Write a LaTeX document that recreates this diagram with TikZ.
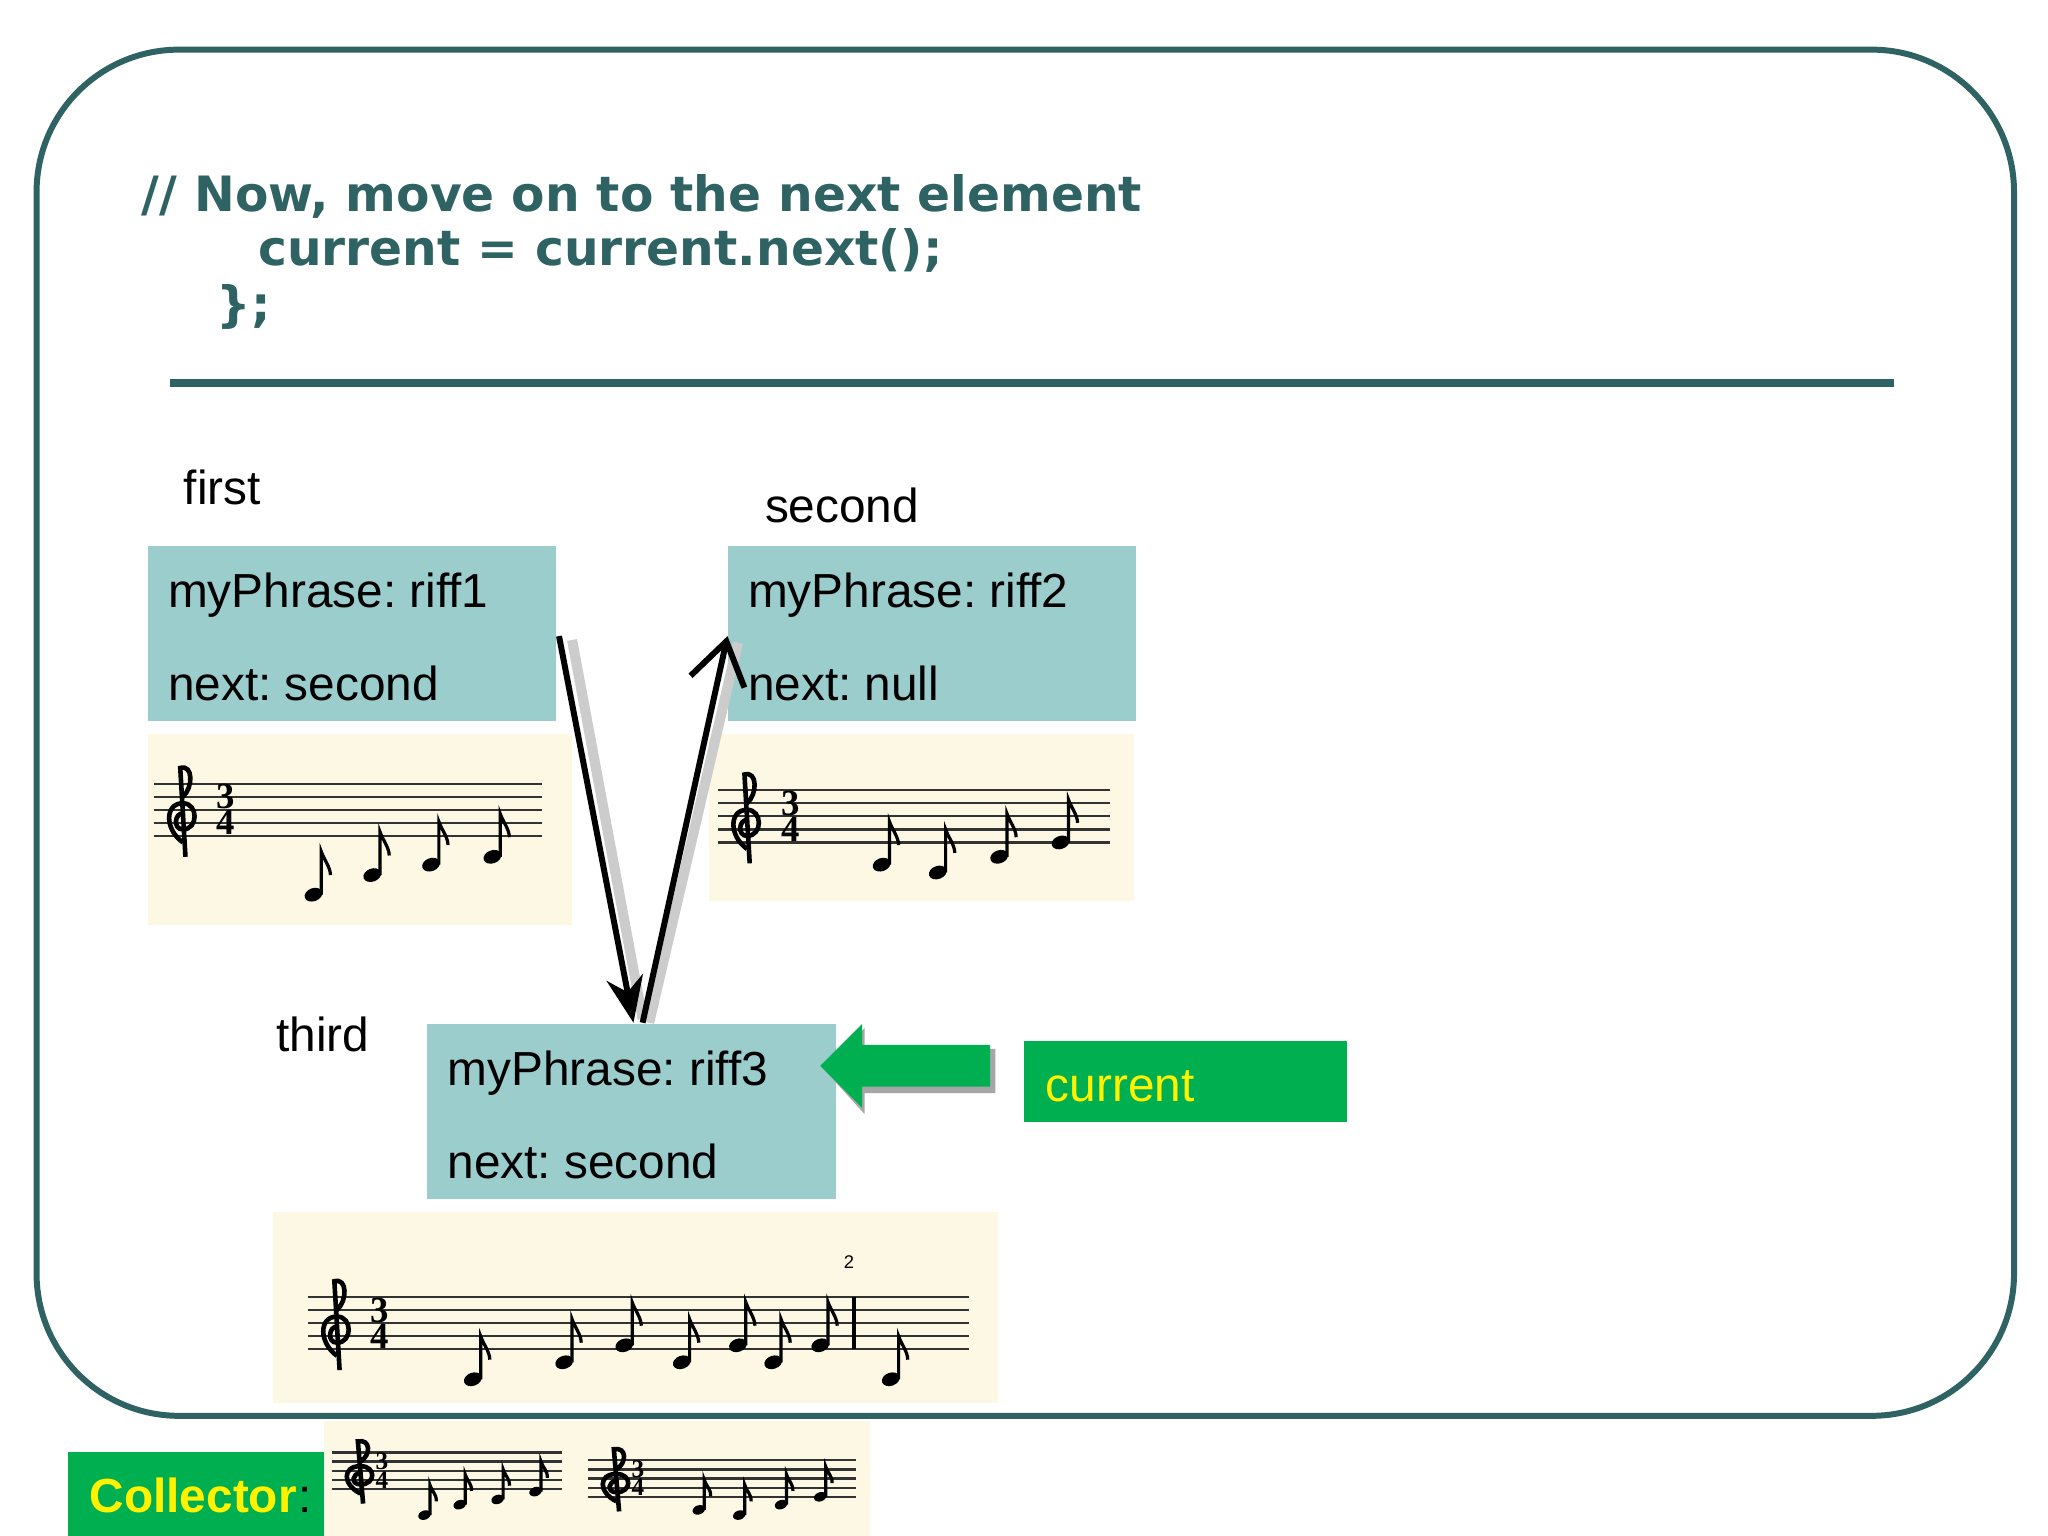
\documentclass[tikz,border=0pt]{standalone}
\usepackage{fontspec}
\setmainfont{Liberation Sans}
\newfontfamily\serifb{Liberation Serif}
\newfontfamily\titlef{DejaVu Sans}
\usetikzlibrary{arrows.meta}
\definecolor{teal1}{HTML}{2F6262}
\definecolor{boxc}{HTML}{9CCDCD}
\definecolor{cream}{HTML}{FCF8E3}
\definecolor{grn}{HTML}{00B050}
\frenchspacing
\tikzset{
 lbl/.style={anchor=base west,inner sep=0,font=\fontsize{10.4pt}{12pt}\selectfont},
 ttl/.style={anchor=base west,inner sep=0,text=teal1,font=\titlef\fontsize{10.6pt}{14pt}\selectfont\bfseries},
 rec/.style={fill=boxc,draw=none},
 music/.style={fill=cream,draw=none},
}
\newcommand{\mystaff}[5]{% x0 x1 ytop sp fontsize
 \foreach \k in {0,...,4}{\draw[line width=0.5pt,black!80] (#1,#3+\k*#4)--(#2,#3+\k*#4);}
 \draw[line width=1pt] (#1+22,#3+4.5*#4) .. controls (#1+8,#3+3.5*#4) and (#1+8,#3+1.5*#4) .. (#1+22,#3+1.5*#4)
   .. controls (#1+34,#3+1.5*#4) and (#1+34,#3+3.5*#4) .. (#1+22,#3+3.5*#4)
   .. controls (#1+14,#3+3.5*#4) and (#1+16,#3+2.2*#4) .. (#1+22,#3+2.3*#4);
 \draw[line width=1pt] (#1+24,#3+5.6*#4) -- (#1+20,#3-1.2*#4) .. controls (#1+30,#3-1.5*#4) and (#1+30,#3+0.3*#4) .. (#1+22,#3+1*#4);
 \node[inner sep=0,font=\serifb\bfseries\fontsize{#5}{#5}\selectfont] at (#1+5.5*#4,#3+1*#4) {3};
 \node[inner sep=0,font=\serifb\bfseries\fontsize{#5}{#5}\selectfont] at (#1+5.5*#4,#3+3*#4) {4};
}
\newcommand{\mynote}[3]{% x y sp  eighth note
 \fill[rotate around={20:(#1,#2)}] (#1,#2) ellipse ({#3*0.7} and {#3*0.5});
 \draw[line width=0.7pt] (#1+#3*0.6,#2) -- ++(0,-3.3*#3) .. controls +(2,6) and +(0,-6) .. ++(#3*0.7,#3*1.8);
}
\begin{document}
\begin{tikzpicture}[x=0.01cm,y=-0.01cm]
\useasboundingbox (0,0) rectangle (1568,1176);
\fill[white] (0,0) rectangle (1568,1176);
\draw[teal1,line width=1.3pt,rounded corners=31pt] (28,38) rectangle (1542,1084);
\node[ttl] (t1) at (108,162) {// Now, move on to the next element};
\node[ttl] (t2) at (197,203) {current = current.next();};
\node[ttl] (t3) at (165,246) {\};};
\draw[teal1,line width=1.8pt] (130,293) -- (1450,293);
% labels
\node[lbl] (lf) at (140,386) {first};
\node[lbl] (ls) at (585,400) {second};
\node[lbl] (lt) at (211,805) {third};
% boxes
\fill[rec] (113,418) rectangle (426,552);
\node[lbl] (b1a) at (128,465) {myPhrase: riff1};
\node[lbl] (b1b) at (128,536) {next: second};
\fill[rec] (557,418) rectangle (870,552);
\node[lbl] (b2a) at (572,465) {myPhrase: riff2};
\node[lbl] (b2b) at (572,536) {next: null};
\fill[rec] (327,784) rectangle (640,918);
\node[lbl] (b3a) at (342,831) {myPhrase: riff3};
\node[lbl] (b3b) at (342,902) {next: second};
\coordinate (box1) at (428,487);
\coordinate (box3) at (485,783);
\coordinate (box3b) at (492,783);
\coordinate (box2) at (557,487);
% music
\fill[music] (113,562) rectangle (438,708);
\mystaff{118}{415}{600}{10}{8pt}
\mynote{240}{685}{10}\mynote{285}{670}{10}\mynote{330}{662}{10}\mynote{377}{656}{10}
\fill[music] (543,562) rectangle (868,690);
\mystaff{550}{850}{605}{10}{8pt}
\mynote{675}{662}{10}\mynote{718}{668}{10}\mynote{765}{656}{10}\mynote{812}{645}{10}
\fill[music] (209,928) rectangle (764,1074);
\mystaff{236}{742}{993}{10}{8pt}
\mynote{362}{1056}{10}\mynote{432}{1043}{10}\mynote{478}{1030}{10}\mynote{522}{1043}{10}
\mynote{565}{1030}{10}\mynote{592}{1043}{10}\mynote{628}{1030}{10}\mynote{682}{1056}{10}
\draw[line width=0.8pt] (654,993)--(654,1033);
\node[inner sep=0,font=\fontsize{4pt}{4pt}\selectfont] at (650,966) {2};
\fill[music] (248,1088) rectangle (443,1176);
\mystaff{254}{430}{1112}{7}{5.5pt}
\mynote{325}{1160}{7}\mynote{352}{1152}{7}\mynote{381}{1148}{7}\mynote{410}{1142}{7}
\fill[music] (443,1088) rectangle (666,1176);
\mystaff{450}{655}{1118}{7}{5.5pt}
\mynote{535}{1156}{7}\mynote{566}{1160}{7}\mynote{598}{1152}{7}\mynote{628}{1146}{7}
% pointer arrows with shadows
\draw[black!20,line width=2.2pt] (438,490) -- (492,780);
\draw[black!20,line width=2.2pt] (497,783) -- (565,492);
\draw[line width=1.3pt,-{Stealth[length=10pt,width=8pt]}] (box1) -- (box3);
\draw[line width=1.3pt,-{Straight Barb[length=9pt,width=12pt,line width=1.3pt]}] (box3b) -- (box2);
% current arrow
\fill[black!35] (632,820) -- (662,787) -- (662,803) -- (762,803) -- (762,837) -- (662,837) -- (662,853) -- cycle;
\fill[grn] (628,816) -- (660,784) -- (660,800) -- (758,800) -- (758,832) -- (660,832) -- (660,848) -- cycle;
\fill[grn] (784,797) rectangle (1031,859);
\node[lbl,text=yellow] (cur) at (800,843) {current};
\fill[grn] (52,1112) rectangle (248,1176);
\node[lbl,text=yellow,font=\fontsize{10.4pt}{12pt}\selectfont\bfseries] (col) at (68,1158) {Collector};
\node[lbl,font=\fontsize{10.4pt}{12pt}\selectfont] (colon) at (col.base east) {:};
\end{tikzpicture}
\end{document}
